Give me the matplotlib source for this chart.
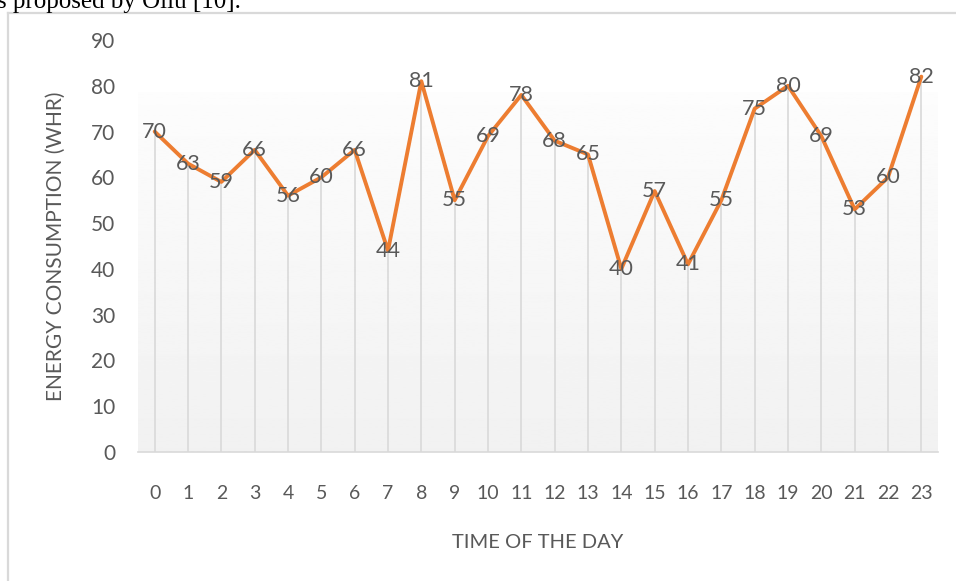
import matplotlib.pyplot as plt
import numpy as np

# hourly energy consumption
hours = list(range(24))
energy = [70, 63, 59, 66, 56, 60, 66, 44, 81, 55, 69, 78, 68, 65,
          40, 57, 41, 55, 75, 80, 69, 53, 60, 82]
yticks = [0, 10, 20, 30, 40, 50, 60, 70, 80, 90]

txt = '#595959'
grid = '#d9d9d9'
orange = '#ED7D31'
plt.rcParams['font.family'] = ['Lato', 'DejaVu Sans']

fig = plt.figure(figsize=(9.56, 5.81), dpi=100)
ax = fig.add_axes([138/956, 1-452/581, 800/956, 412/581])

# frame of the embedded chart + the cut-off caption line above it
fig.add_artist(plt.Line2D([8/956, 1], [1-12.5/581, 1-12.5/581], color=grid, lw=1.6))
fig.add_artist(plt.Line2D([8/956, 8/956], [0, 1-12.5/581], color=grid, lw=1.6))
fig.text(-3/956, 1-8/581, 's proposed by Oliu [10].', family='Liberation Serif',
         fontsize=18, color='black', ha='left', va='baseline')

# light gradient behind the plot
grad = np.linspace(0.99, 0.945, 256).reshape(-1, 1)
ax.imshow(grad, cmap='gray', vmin=0, vmax=1, aspect='auto',
          extent=(0, 1, 0, 0.872), transform=ax.transAxes, zorder=0)

ax.vlines(hours, 0, energy, color=grid, lw=1.2, zorder=1)
ax.plot(hours, energy, color=orange, lw=2.8, zorder=3, solid_capstyle='round')
for h, e in zip(hours, energy):
    ax.text(h, e, str(e), ha='center', va='center', fontsize=15.5,
            color=txt, zorder=4)

ax.set_xlim(-0.5, 23.5)
ax.set_ylim(0, 90)
ax.set_xticks(hours)
ax.set_xticklabels([str(h) for h in hours])
ax.set_yticks(yticks)
ax.tick_params(axis='both', length=0, colors=txt)
ax.tick_params(axis='y', pad=16.5, labelsize=15)
ax.tick_params(axis='x', pad=24, labelsize=14)
for s in ['top', 'right', 'left']:
    ax.spines[s].set_visible(False)
ax.spines['bottom'].set_color(grid)
ax.spines['bottom'].set_linewidth(1.2)
ax.set_facecolor('none')

ax.set_xlabel('TIME OF THE DAY', fontsize=14.5, color=txt, labelpad=23)
ax.set_ylabel('ENERGY CONSUMPTION (WHR)', fontsize=15, color=txt, labelpad=18)

fig.savefig('out.png', dpi=100)
